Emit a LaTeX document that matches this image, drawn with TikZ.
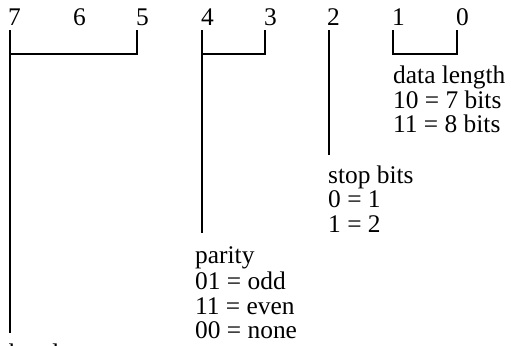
\documentclass[tikz,border=0pt]{standalone}
\usepackage{fontspec}
\setmainfont{Liberation Serif}
\begin{document}
\begin{tikzpicture}[x=1bp,y=-1bp,
  lbl/.style={anchor=base west,inner sep=0pt,font=\fontsize{25.5}{24.5}\selectfont},
  wire/.style={line width=2.2bp,line cap=butt,line join=miter}]
\useasboundingbox (0,0) rectangle (511,345);
\clip (0,0) rectangle (511,345);
% bit numbers
\node[lbl] (d7) at (8,25) {7};
\node[lbl] (d6) at (73,25) {6};
\node[lbl] (d5) at (136,25) {5};
\node[lbl] (d4) at (201,25) {4};
\node[lbl] (d3) at (264,25) {3};
\node[lbl] (d2) at (327,25) {2};
\node[lbl] (d1) at (392,25) {1};
\node[lbl] (d0) at (456,25) {0};
% anchor coordinates
\coordinate (t7) at (10,30);
\coordinate (t5) at (137,30);
\coordinate (j7) at (10,54);
\coordinate (j5) at (137,54);
\coordinate (e7) at (10,333);
\coordinate (t4) at (202,30);
\coordinate (t3) at (265,30);
\coordinate (j4) at (202,54);
\coordinate (j3) at (265,54);
\coordinate (e4) at (202,233);
\coordinate (t2) at (329,30);
\coordinate (e2) at (329,155);
\coordinate (t1) at (393,30);
\coordinate (t0) at (457,30);
\coordinate (j1) at (393,54);
\coordinate (j0) at (457,54);
% connectors
\draw[wire] (t7) -- (e7);
\draw[wire] (j7) -- (j5) -- (t5);
\draw[wire] (t4) -- (e4);
\draw[wire] (j4) -- (j3) -- (t3);
\draw[wire] (t2) -- (e2);
\draw[wire] (t1) -- (j1) -- (j0) -- (t0);
% descriptions
\node[lbl] (dl)  at (393,83)  {data length};
\node[lbl] (dl1) at (393,108) {10 = 7 bits};
\node[lbl] (dl2) at (393,132) {11 = 8 bits};
\node[lbl] (sb)  at (328,183) {stop bits};
\node[lbl] (sb1) at (328,207) {0 = 1};
\node[lbl] (sb2) at (328,232) {1 = 2};
\node[lbl] (pa)  at (195,263) {parity};
\node[lbl] (pa1) at (195,289) {01 = odd};
\node[lbl] (pa2) at (195,314) {11 = even};
\node[lbl] (pa3) at (195,338) {00 = none};
\node[lbl] (br)  at (9,361) {baud rate};
\end{tikzpicture}
\end{document}
